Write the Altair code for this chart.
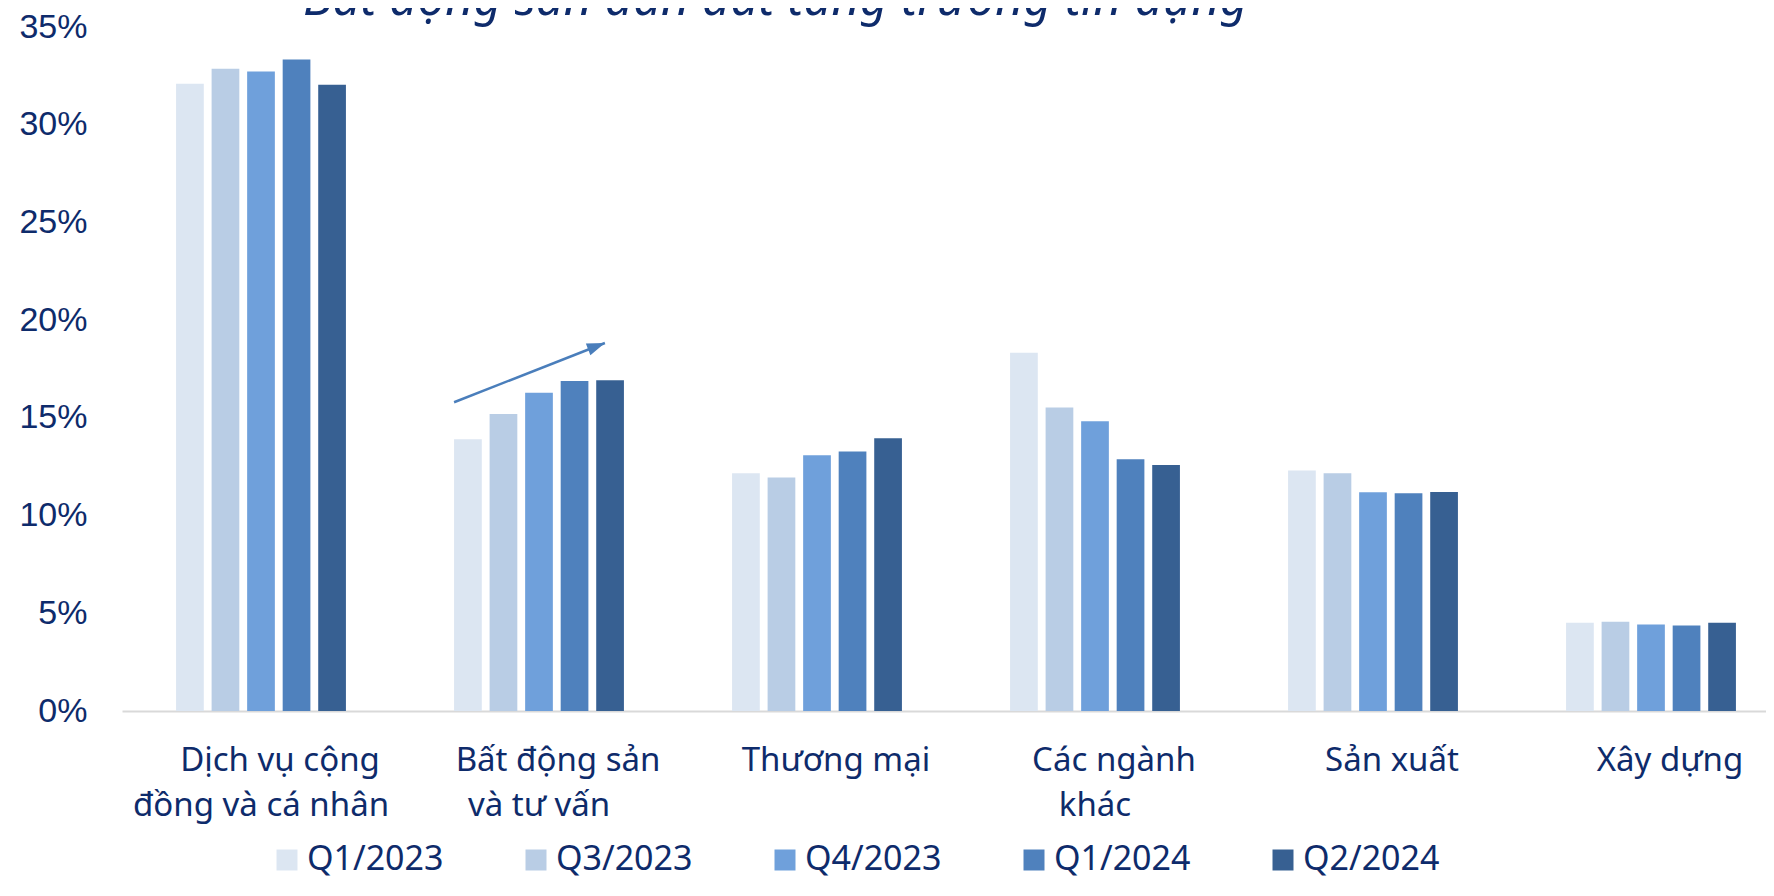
import altair as alt
import pandas as pd

# ---------------- data ----------------
categories = [
    "Dịch vụ cộng đồng và cá nhân",
    "Bất động sản và tư vấn",
    "Thương mại",
    "Các ngành khác",
    "Sản xuất",
    "Xây dựng",
]
label_line1 = ["Dịch vụ cộng", "Bất động sản", "Thương mại", "Các ngành", "Sản xuất", "Xây dựng"]
label_line2 = ["đồng và cá nhân", "và tư vấn", "", "khác", "", ""]
quarters = ["Q1/2023", "Q3/2023", "Q4/2023", "Q1/2024", "Q2/2024"]
q1_2023 = [32.10, 13.91, 12.17, 18.33, 12.31, 4.52]
q3_2023 = [32.87, 15.20, 11.95, 15.53, 12.17, 4.57]
q4_2023 = [32.72, 16.28, 13.09, 14.83, 11.19, 4.43]
q1_2024 = [33.34, 16.88, 13.28, 12.88, 11.14, 4.38]
q2_2024 = [32.04, 16.93, 13.96, 12.59, 11.21, 4.52]
colors = ["#DCE6F2", "#B9CDE5", "#6FA0DB", "#4F81BD", "#376092"]
y_ticks = [0, 5, 10, 15, 20, 25, 30, 35]
title_text = "Bất động sản dẫn dắt tăng trưởng tín dụng"

# trend arrow over "Bất động sản và tư vấn" (percent values)
arrow_category = categories[1]
arrow_from = 15.80
arrow_to = 18.83

NAVY = "#0E2B6B"
FONT = "Noto Sans"

series = [q1_2023, q3_2023, q4_2023, q1_2024, q2_2024]
rows = []
for q, vals in zip(quarters, series):
    for c, v in zip(categories, vals):
        rows.append({"cat": c, "q": q, "v": v / 100})
df = pd.DataFrame(rows)
labels_df = pd.DataFrame({"cat": categories, "l1": label_line1, "l2": label_line2})
arrow_df = pd.DataFrame([{"cat": arrow_category, "y1": arrow_from / 100, "y2": arrow_to / 100}])
title_df = pd.DataFrame([{"t": title_text}])

x_scale = alt.Scale(range=[0, 1668], paddingInner=0.389, paddingOuter=0.1945)
x_enc = alt.X(
    "cat:N",
    sort=categories,
    scale=x_scale,
    axis=alt.Axis(
        title=None,
        labels=False,
        ticks=False,
        domainColor="#D9D9D9",
        domainWidth=2,
    ),
)

bars = alt.Chart(df).mark_bar().encode(
    x=x_enc,
    xOffset=alt.XOffset("q:N", sort=quarters, scale=alt.Scale(paddingInner=0.22, paddingOuter=0)),
    y=alt.Y(
        "v:Q",
        scale=alt.Scale(domain=[0, 0.35], nice=False),
        axis=alt.Axis(
            title=None,
            values=[t / 100 for t in y_ticks],
            format=".0%",
            domain=False,
            ticks=False,
            grid=False,
            labelFont="Liberation Sans",
            labelFontSize=34,
            labelColor=NAVY,
            labelPadding=35,
        ),
    ),
    color=alt.Color(
        "q:N",
        sort=quarters,
        scale=alt.Scale(domain=quarters, range=colors),
        legend=alt.Legend(
            title=None,
            orient="none",
            legendX=148,
            legendY=816,
            direction="horizontal",
            columns=5,
            symbolType="square",
            symbolSize=441,
            symbolStrokeWidth=0,
            symbolOpacity=1,
            labelFont=FONT,
            labelFontSize=34,
            labelColor=NAVY,
            labelOffset=3,
            columnPadding=75,
            padding=0,
            labelLimit=0,
        ),
    ),
)

label_style = dict(align="center", baseline="alphabetic", font=FONT, fontSize=33, color=NAVY)
labels1 = alt.Chart(labels_df).mark_text(dx=19, **label_style).encode(
    x=alt.X("cat:N", sort=categories),
    y=alt.value(744),
    text="l1:N",
)
labels2 = alt.Chart(labels_df).mark_text(**label_style).encode(
    x=alt.X("cat:N", sort=categories),
    y=alt.value(789),
    text="l2:N",
)

arrow_line = alt.Chart(arrow_df).mark_rule(color="#4A7EBB", strokeWidth=2.5).encode(
    x=alt.X("cat:N", sort=categories, bandPosition=0),
    x2=alt.X2("cat", bandPosition=0.888),
    y=alt.Y("y1:Q"),
    y2=alt.Y2("y2"),
)

arrow_head = alt.Chart(arrow_df).mark_point(filled=True, opacity=1, color="#4A7EBB").encode(
    x=alt.X("cat:N", sort=categories, bandPosition=0.888),
    y=alt.Y("y2:Q"),
    shape=alt.value("M0,0L-2,-0.7L-2,0.7Z"),
    angle=alt.value(338.9),
    size=alt.value(324),
)

title_mark = alt.Chart(title_df).mark_text(
    align="left",
    baseline="alphabetic",
    font=FONT,
    fontStyle="italic",
    fontSize=49,
    color=NAVY,
).encode(
    x=alt.value(181),
    y=alt.value(-12),
    text="t:N",
)

chart = alt.layer(bars, labels1, labels2, arrow_line, arrow_head, title_mark).properties(
    width=1644,
    height=684,
    autosize=alt.AutoSizeParams(type="none"),
    padding={"left": 114, "top": 19, "right": 0, "bottom": 171},
    background="white",
).configure_view(stroke=None)

chart.save("out.html", embed_options={"renderer": "svg", "actions": False})
